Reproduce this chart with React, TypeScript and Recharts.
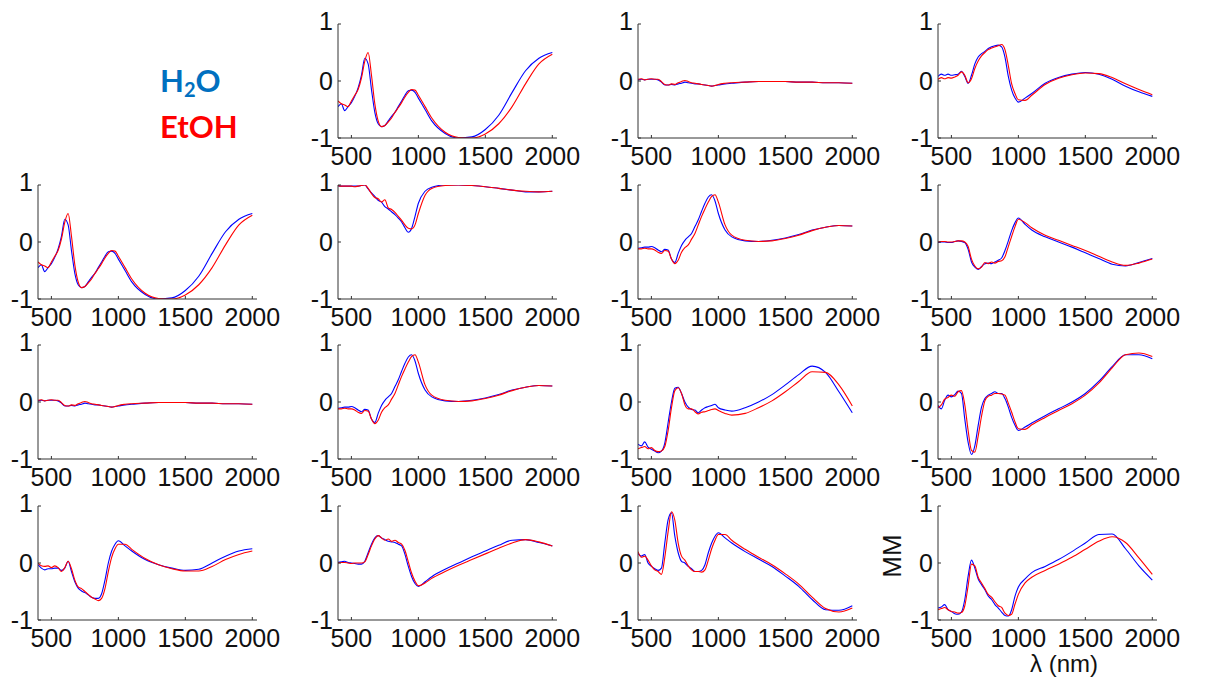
import React from 'react';
import { LineChart, Line, XAxis, YAxis } from 'recharts';

// wavelength grid (nm), shared by every panel
const WL = [
  400, 425, 450, 475, 500, 525, 550, 575, 600, 625,
  650, 675, 700, 725, 750, 775, 800, 825, 850, 875,
  900, 925, 950, 975, 1000,
  1050, 1100, 1200, 1300, 1400, 1500, 1600, 1700, 1800, 1900, 2000,
];
const X_TICKS = [500, 1000, 1500, 2000];
const Y_TICKS = [-1, 0, 1];

// Mueller matrix elements, blue = H2O, red = EtOH
const m01Blue = [-0.45, -0.4, -0.52, -0.45, -0.38, -0.27, -0.12, 0.1, 0.4, 0.3, -0.15, -0.55, -0.75, -0.8, -0.78, -0.7, -0.62, -0.55, -0.45, -0.35, -0.25, -0.17, -0.16, -0.2, -0.3, -0.5, -0.7, -0.92, -1.0, -0.98, -0.85, -0.6, -0.2, 0.18, 0.4, 0.5];
const m01Red = [-0.35, -0.4, -0.42, -0.45, -0.35, -0.25, -0.15, 0.05, 0.35, 0.5, 0.1, -0.4, -0.7, -0.8, -0.78, -0.72, -0.65, -0.55, -0.47, -0.38, -0.28, -0.2, -0.15, -0.16, -0.25, -0.45, -0.65, -0.9, -0.99, -1.0, -0.93, -0.75, -0.45, -0.05, 0.3, 0.47];

const m02Blue = [0.02, 0.03, 0.02, 0.03, 0.03, 0.03, 0.02, -0.02, -0.07, -0.07, -0.06, -0.07, -0.05, -0.04, -0.02, -0.03, -0.04, -0.05, -0.05, -0.06, -0.07, -0.08, -0.09, -0.08, -0.07, -0.05, -0.04, -0.02, -0.01, -0.01, -0.01, -0.02, -0.02, -0.03, -0.03, -0.04];
const m02Red = [0.03, 0.04, 0.02, 0.03, 0.04, 0.03, 0.03, -0.01, -0.06, -0.07, -0.05, -0.06, -0.03, -0.01, 0.01, -0.01, -0.03, -0.04, -0.05, -0.06, -0.07, -0.08, -0.09, -0.08, -0.06, -0.04, -0.03, -0.02, -0.01, -0.01, -0.01, -0.02, -0.02, -0.03, -0.03, -0.04];

const m03Blue = [0.08, 0.12, 0.1, 0.12, 0.1, 0.11, 0.12, 0.17, 0.08, -0.04, 0.1, 0.3, 0.42, 0.48, 0.52, 0.57, 0.6, 0.62, 0.63, 0.6, 0.42, 0.08, -0.16, -0.3, -0.37, -0.3, -0.22, -0.04, 0.06, 0.12, 0.15, 0.12, 0.03, -0.09, -0.19, -0.27];
const m03Red = [0.03, 0.06, 0.04, 0.06, 0.05, 0.07, 0.1, 0.16, 0.1, -0.03, 0.04, 0.22, 0.35, 0.44, 0.5, 0.55, 0.58, 0.6, 0.62, 0.64, 0.55, 0.27, -0.05, -0.22, -0.33, -0.34, -0.25, -0.06, 0.05, 0.11, 0.14, 0.13, 0.06, -0.05, -0.15, -0.24];

const m11Blue = [0.99, 0.98, 0.98, 0.98, 0.98, 0.98, 0.98, 0.99, 1.0, 0.93, 0.86, 0.8, 0.73, 0.7, 0.62, 0.58, 0.53, 0.48, 0.42, 0.35, 0.25, 0.17, 0.24, 0.45, 0.68, 0.89, 0.96, 1.0, 1.0, 0.99, 0.97, 0.94, 0.91, 0.88, 0.88, 0.89];
const m11Red = [0.99, 0.98, 0.98, 0.98, 0.98, 0.97, 0.98, 0.99, 1.0, 0.94, 0.85, 0.78, 0.76, 0.7, 0.74, 0.6, 0.57, 0.52, 0.45, 0.38, 0.3, 0.24, 0.23, 0.3, 0.5, 0.82, 0.94, 0.99, 1.0, 0.99, 0.97, 0.94, 0.91, 0.89, 0.88, 0.89];

const m12Blue = [-0.11, -0.1, -0.09, -0.09, -0.08, -0.1, -0.14, -0.17, -0.13, -0.14, -0.3, -0.36, -0.2, -0.06, 0.03, 0.09, 0.15, 0.27, 0.39, 0.54, 0.68, 0.79, 0.83, 0.72, 0.5, 0.21, 0.09, 0.02, 0.01, 0.03, 0.07, 0.13, 0.21, 0.26, 0.29, 0.28];
const m12Red = [-0.12, -0.12, -0.11, -0.12, -0.12, -0.14, -0.18, -0.2, -0.15, -0.16, -0.3, -0.38, -0.32, -0.18, -0.1, -0.05, 0.05, 0.15, 0.3, 0.45, 0.58, 0.7, 0.8, 0.83, 0.7, 0.3, 0.12, 0.03, 0.01, 0.02, 0.06, 0.12, 0.2, 0.26, 0.29, 0.28];

const m13Blue = [-0.01, 0.0, 0.0, -0.01, -0.01, 0.01, 0.02, 0.01, -0.01, -0.13, -0.35, -0.44, -0.48, -0.43, -0.38, -0.37, -0.38, -0.35, -0.32, -0.28, -0.15, 0.02, 0.2, 0.34, 0.42, 0.31, 0.21, 0.09, 0.0, -0.09, -0.19, -0.29, -0.39, -0.42, -0.36, -0.29];
const m13Red = [0.0, 0.01, 0.01, 0.0, 0.0, 0.01, 0.02, 0.02, 0.0, -0.08, -0.3, -0.42, -0.47, -0.44, -0.36, -0.38, -0.35, -0.37, -0.34, -0.33, -0.26, -0.08, 0.1, 0.27, 0.4, 0.34, 0.25, 0.12, 0.03, -0.06, -0.15, -0.25, -0.35, -0.41, -0.37, -0.3];

const m22Blue = [-0.74, -0.77, -0.7, -0.79, -0.83, -0.86, -0.89, -0.86, -0.72, -0.36, 0.0, 0.24, 0.26, 0.15, 0.0, -0.09, -0.13, -0.14, -0.19, -0.14, -0.1, -0.08, -0.06, -0.04, -0.1, -0.14, -0.16, -0.1, 0.0, 0.13, 0.3, 0.48, 0.63, 0.52, 0.18, -0.19];
const m22Red = [-0.82, -0.8, -0.78, -0.82, -0.8, -0.85, -0.87, -0.86, -0.78, -0.5, -0.1, 0.2, 0.25, 0.15, -0.05, -0.12, -0.12, -0.17, -0.21, -0.18, -0.17, -0.15, -0.13, -0.12, -0.15, -0.2, -0.23, -0.2, -0.1, 0.02, 0.18, 0.36, 0.53, 0.52, 0.3, -0.07];

const m23Blue = [-0.06, -0.12, 0.03, 0.12, 0.09, 0.13, 0.19, 0.15, -0.3, -0.71, -0.92, -0.77, -0.41, -0.09, 0.06, 0.12, 0.15, 0.18, 0.15, 0.15, 0.06, -0.09, -0.27, -0.41, -0.5, -0.44, -0.37, -0.24, -0.12, 0.0, 0.15, 0.36, 0.62, 0.83, 0.83, 0.76];
const m23Red = [-0.1, -0.05, 0.05, 0.08, 0.12, 0.1, 0.18, 0.2, -0.05, -0.5, -0.85, -0.88, -0.6, -0.25, 0.02, 0.1, 0.12, 0.15, 0.15, 0.14, 0.12, -0.02, -0.18, -0.35, -0.47, -0.48, -0.4, -0.27, -0.15, -0.03, 0.12, 0.33, 0.6, 0.83, 0.86, 0.8];

const m30Blue = [-0.03, -0.09, -0.12, -0.1, -0.1, -0.09, -0.09, -0.13, -0.09, 0.03, -0.15, -0.33, -0.44, -0.49, -0.52, -0.56, -0.6, -0.62, -0.62, -0.54, -0.3, 0.0, 0.21, 0.33, 0.39, 0.3, 0.21, 0.06, -0.03, -0.09, -0.13, -0.11, 0.0, 0.12, 0.21, 0.25];
const m30Red = [0.0, -0.05, -0.06, -0.05, -0.08, -0.05, -0.08, -0.15, -0.08, 0.03, -0.1, -0.3, -0.42, -0.45, -0.5, -0.55, -0.6, -0.63, -0.66, -0.62, -0.45, -0.15, 0.1, 0.25, 0.33, 0.33, 0.24, 0.08, -0.03, -0.1, -0.14, -0.14, -0.06, 0.06, 0.15, 0.21];

const m31Blue = [0.01, 0.02, 0.03, 0.01, 0.0, -0.01, -0.02, -0.02, 0.03, 0.18, 0.33, 0.44, 0.48, 0.44, 0.41, 0.38, 0.37, 0.36, 0.33, 0.3, 0.15, -0.06, -0.24, -0.36, -0.41, -0.33, -0.24, -0.11, 0.0, 0.11, 0.21, 0.31, 0.4, 0.41, 0.36, 0.3];
const m31Red = [0.0, 0.01, 0.01, 0.0, -0.01, 0.0, 0.0, 0.0, 0.02, 0.15, 0.3, 0.42, 0.48, 0.44, 0.4, 0.42, 0.38, 0.4, 0.36, 0.33, 0.22, 0.02, -0.18, -0.32, -0.4, -0.35, -0.27, -0.15, -0.04, 0.06, 0.16, 0.26, 0.35, 0.41, 0.37, 0.3];

const m32Blue = [0.17, 0.12, 0.15, 0.0, -0.06, -0.1, -0.13, -0.09, 0.35, 0.76, 0.88, 0.47, 0.18, 0.03, 0.0, -0.06, -0.1, -0.15, -0.15, -0.13, -0.03, 0.18, 0.35, 0.47, 0.53, 0.44, 0.35, 0.2, 0.07, -0.06, -0.23, -0.41, -0.64, -0.82, -0.83, -0.75];
const m32Red = [0.2, 0.1, 0.12, 0.05, -0.05, -0.12, -0.15, -0.2, 0.1, 0.55, 0.9, 0.75, 0.35, 0.12, 0.05, -0.05, -0.12, -0.15, -0.15, -0.16, -0.12, 0.05, 0.25, 0.4, 0.5, 0.5, 0.4, 0.24, 0.1, -0.03, -0.19, -0.37, -0.6, -0.8, -0.86, -0.79];

const m33Blue = [-0.79, -0.77, -0.73, -0.82, -0.85, -0.89, -0.9, -0.86, -0.64, -0.23, 0.05, -0.09, -0.28, -0.38, -0.47, -0.58, -0.64, -0.73, -0.79, -0.86, -0.92, -0.93, -0.82, -0.58, -0.42, -0.28, -0.17, -0.06, 0.06, 0.2, 0.35, 0.5, 0.51, 0.25, -0.05, -0.3];
const m33Red = [-0.82, -0.8, -0.78, -0.82, -0.85, -0.86, -0.88, -0.87, -0.75, -0.4, -0.02, -0.05, -0.25, -0.35, -0.45, -0.55, -0.6, -0.68, -0.75, -0.78, -0.88, -0.92, -0.9, -0.72, -0.55, -0.35, -0.25, -0.13, -0.02, 0.1, 0.24, 0.38, 0.46, 0.36, 0.09, -0.2];

// symmetric pairs look the same in the figure
const PANELS = [
    { row: 0, col: 1, blue: m01Blue, red: m01Red },
    { row: 0, col: 2, blue: m02Blue, red: m02Red },
    { row: 0, col: 3, blue: m03Blue, red: m03Red },
    { row: 1, col: 0, blue: m01Blue, red: m01Red },
    { row: 1, col: 1, blue: m11Blue, red: m11Red },
    { row: 1, col: 2, blue: m12Blue, red: m12Red },
    { row: 1, col: 3, blue: m13Blue, red: m13Red },
    { row: 2, col: 0, blue: m02Blue, red: m02Red },
    { row: 2, col: 1, blue: m12Blue, red: m12Red },
    { row: 2, col: 2, blue: m22Blue, red: m22Red },
    { row: 2, col: 3, blue: m23Blue, red: m23Red },
    { row: 3, col: 0, blue: m30Blue, red: m30Red },
    { row: 3, col: 1, blue: m31Blue, red: m31Red },
    { row: 3, col: 2, blue: m32Blue, red: m32Red },
    { row: 3, col: 3, blue: m33Blue, red: m33Red },
];

const ROW_TOP = [24, 185, 345, 506];
const COL_LEFT = [0, 300, 600, 900];
const FONT = '"Liberation Sans", Arial, sans-serif';
const AXIS = '#333333';

function XTick({ x, y, payload }: any) {
    return (
        <g>
            <line x1={x} x2={x} y1={y} y2={y - 3} stroke={AXIS} />
            <text x={x} y={y + 18} textAnchor="middle" dominantBaseline="central"
                  fontSize={25} fontFamily={FONT} fill="#111">
                {payload.value}
            </text>
        </g>
    );
}

function YTick({ x, y, payload }: any) {
    return (
        <g>
            <line x1={x} x2={x + 3} y1={y} y2={y} stroke={AXIS} />
            <text x={x - 5} y={payload.value === 1 ? y - 3 : y} textAnchor="end" dominantBaseline="central"
                  fontSize={25} fontFamily={FONT} fill="#111">
                {payload.value}
            </text>
        </g>
    );
}

function Panel({ blue, red }: { blue: number[]; red: number[] }) {
    const rows = WL.map((w, i) => ({ w, h2o: blue[i], etoh: red[i] }));
    return (
        <LineChart width={300} height={175} data={rows}
                   margin={{ top: 24, right: 43, bottom: 0, left: 0 }}>
            <XAxis dataKey="w" type="number" domain={[400, 2035]} ticks={X_TICKS}
                   tick={<XTick />} tickLine={false} tickSize={0} tickMargin={0}
                   height={37} stroke={AXIS} allowDataOverflow />
            <YAxis type="number" domain={[-1, 1]} ticks={Y_TICKS} width={38}
                   tick={<YTick />} tickLine={false} tickSize={0} tickMargin={0}
                   stroke={AXIS} allowDataOverflow />
            <Line type="monotone" dataKey="h2o" stroke="#0000ff" strokeWidth={1.1}
                  dot={false} isAnimationActive={false} />
            <Line type="monotone" dataKey="etoh" stroke="#ff0000" strokeWidth={1.1}
                  dot={false} isAnimationActive={false} />
        </LineChart>
    );
}

export default function App() {
    return (
        <div style={{ position: 'absolute', left: 0, top: 0, width: 1207, height: 680,
                      background: '#fff', overflow: 'hidden' }}>
            {PANELS.map((p, i) => (
                <div key={i} style={{ position: 'absolute', left: COL_LEFT[p.col], top: ROW_TOP[p.row] - 24 }}>
                    <Panel blue={p.blue} red={p.red} />
                </div>
            ))}
            <div style={{ position: 'absolute', left: 160, top: 57, fontFamily: 'Lato, "Open Sans", sans-serif',
                          fontWeight: 700, fontSize: 31, lineHeight: '46px' }}>
                <div style={{ color: '#0070c0' }}>
                    H<sub style={{ fontSize: 20, verticalAlign: '-0.25em', lineHeight: 0 }}>2</sub>O
                </div>
                <div style={{ color: '#ff0000' }}>EtOH</div>
            </div>
            <svg width={1207} height={680} style={{ position: 'absolute', left: 0, top: 0, pointerEvents: 'none' }}>
                <text x={901} y={556} transform="rotate(-90 901 556)" textAnchor="middle"
                      fontSize={26} fontFamily={FONT} fill="#111">MM</text>
                <text x={1064} y={672} textAnchor="middle" fontSize={24} fontFamily={FONT} fill="#111">
                    λ (nm)
                </text>
            </svg>
        </div>
    );
}
